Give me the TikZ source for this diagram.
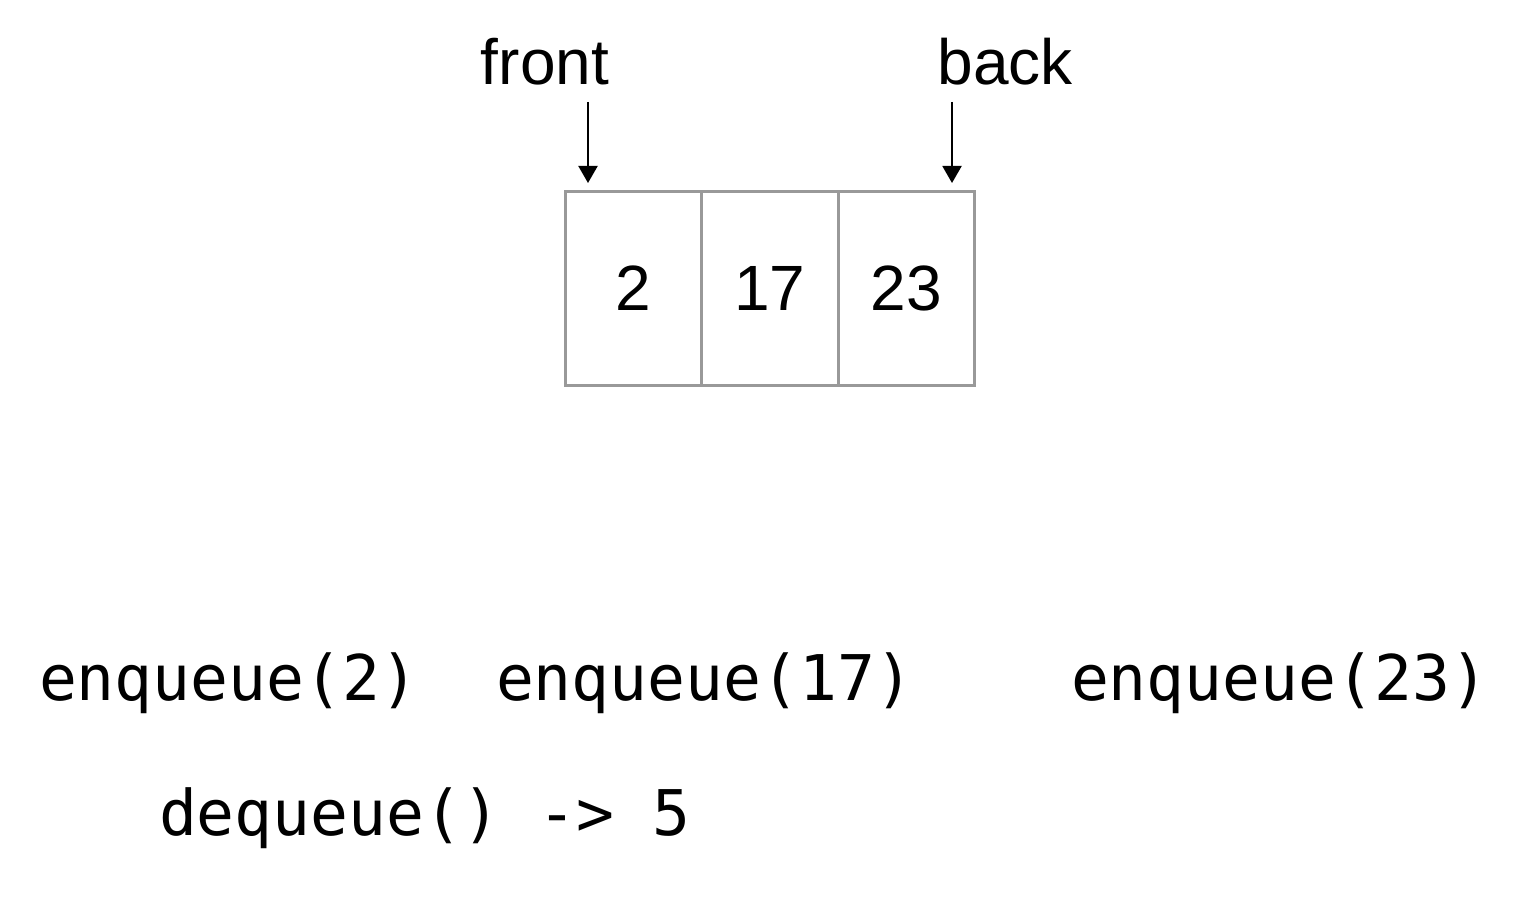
\documentclass[tikz,border=0pt]{standalone}
\usepackage{fontspec}
\setmainfont{Liberation Sans}
\setmonofont{DejaVu Sans Mono}
\usepackage{tikz}
\usetikzlibrary{arrows.meta}

\begin{document}
\begin{tikzpicture}[x=1pt, y=-1pt, node distance={136.5pt}, line width=2pt,
    cell/.style = {draw=black!40, line width=3pt, minimum width=136.5pt, minimum height=193pt, inner sep=0pt, font=\fontsize{64}{64}\selectfont},
    lbl/.style = {font=\fontsize{64}{64}\selectfont, inner sep=0pt, anchor=base},
    op/.style = {font=\ttfamily\fontsize{63}{63}\selectfont, inner sep=0pt, anchor=base west},
    ptr/.style = {-{Triangle[width=19pt, length=17pt]}}]
                \useasboundingbox (0,0) rectangle (1538,904);
                \node[cell] (c0) at (633.25,288.5) {2};
                \node[cell] (c1) [right of=c0] {17};
                \node[cell] (c2) [right of=c1] {23};
                \node[lbl] (front) at (545,85) {front};
                \node[lbl] (back) at (1005,85) {back};
                \coordinate (f0) at (588,102);
                \coordinate (f1) at (588,183);
                \coordinate (b0) at (952,102);
                \coordinate (b1) at (952,183);
                \draw[ptr] (f0) -- (f1);
                \draw[ptr] (b0) -- (b1);
                \node[op] (e0) at (38,700) {enqueue(2)};
                \node[op] (e1) at (495,700) {enqueue(17)};
                \node[op] (e2) at (1070,700) {enqueue(23)};
                \node[op] (d0) at (158,835) {dequeue() -> 5};
            \end{tikzpicture}
\end{document}
